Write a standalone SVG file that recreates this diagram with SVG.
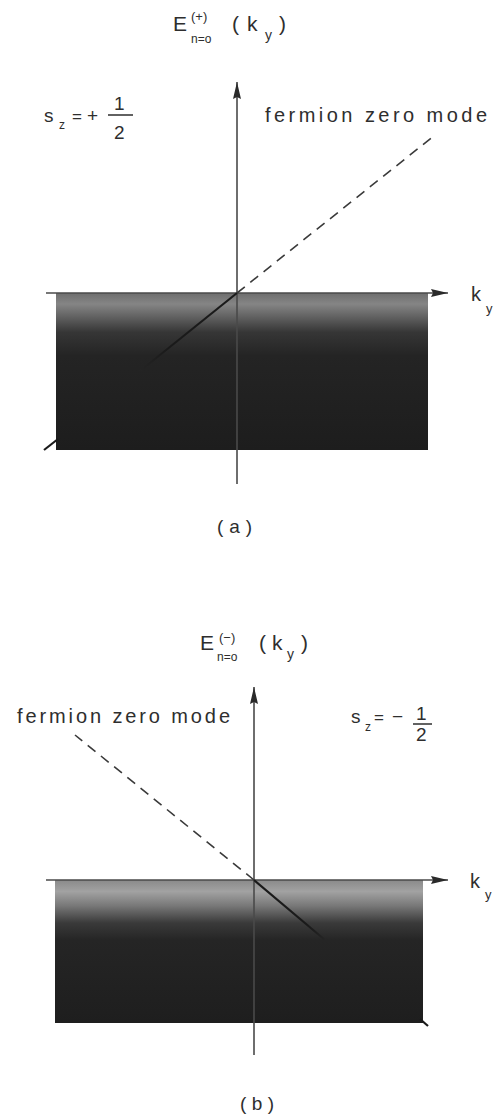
<svg xmlns="http://www.w3.org/2000/svg" width="497" height="1115" viewBox="0 0 497 1115">
<style>
.t{font-family:"Liberation Sans",Arial,sans-serif;fill:#2e2e2e}
.ax{stroke:#4a4a4a;stroke-width:1.6;fill:none}
.sol{stroke:#1a1a1a;stroke-width:2.2;fill:none}
.dash{stroke:#3a3a3a;stroke-width:1.6;fill:none;stroke-dasharray:10 7}
</style>
<defs>
<marker id="ah" markerUnits="userSpaceOnUse" markerWidth="18" markerHeight="10" refX="17" refY="4" orient="auto">
<path d="M0,0 L17,4 L0,8 L2,4 z" fill="#2a2a2a"/>
</marker>
<linearGradient id="ga" x1="0" y1="0" x2="0" y2="1">
<stop offset="0" stop-color="#6e6e6e"/>
<stop offset="0.07" stop-color="#858585"/>
<stop offset="0.15" stop-color="#626262"/>
<stop offset="0.25" stop-color="#363636"/>
<stop offset="0.4" stop-color="#242424"/>
<stop offset="1" stop-color="#1d1d1d"/>
</linearGradient>
<linearGradient id="gb" x1="0" y1="0" x2="0" y2="1">
<stop offset="0" stop-color="#8a8a8a"/>
<stop offset="0.08" stop-color="#a2a2a2"/>
<stop offset="0.18" stop-color="#787878"/>
<stop offset="0.3" stop-color="#3a3a3a"/>
<stop offset="0.42" stop-color="#252525"/>
<stop offset="1" stop-color="#1e1e1e"/>
</linearGradient>
<linearGradient id="fa" gradientUnits="userSpaceOnUse" x1="237" y1="293" x2="140" y2="371">
<stop offset="0" stop-color="#1a1a1a"/>
<stop offset="0.7" stop-color="#1a1a1a"/>
<stop offset="1" stop-color="#242424"/>
</linearGradient>
<linearGradient id="fb" gradientUnits="userSpaceOnUse" x1="254" y1="880" x2="325" y2="940">
<stop offset="0" stop-color="#1a1a1a"/>
<stop offset="0.75" stop-color="#1a1a1a"/>
<stop offset="1" stop-color="#252525"/>
</linearGradient>
</defs>

<g id="panel-a">
<rect x="56" y="293" width="372" height="157" fill="url(#ga)"/>
<g id="connectors-a">
<line class="ax" x1="237" y1="484" x2="237" y2="82" marker-end="url(#ah)"/>
<line class="ax" x1="46" y1="293" x2="448" y2="293" marker-end="url(#ah)"/>
<line x1="237" y1="293" x2="140" y2="371" stroke="url(#fa)" stroke-width="2.2"/>
<line class="sol" x1="58" y1="439" x2="44" y2="450"/>
<line class="dash" x1="237" y1="293" x2="435" y2="135"/>
</g>
<g id="title-a">
<text class="t" x="173" y="31" font-size="21">E</text>
<text class="t" x="191" y="21" font-size="13">(+)</text>
<text class="t" x="191" y="43" font-size="12">n=o</text>
<text class="t" x="232" y="31" font-size="21">(</text>
<text class="t" x="247" y="31" font-size="21">k</text>
<text class="t" x="265" y="40" font-size="14">y</text>
<text class="t" x="279" y="31" font-size="21">)</text>
</g>
<g id="spin-a">
<text class="t" x="44" y="122" font-size="19">s</text>
<text class="t" x="59" y="129" font-size="12">z</text>
<text class="t" x="72" y="122" font-size="17">=</text>
<text class="t" x="87" y="122" font-size="19">+</text>
<text class="t" x="114" y="110" font-size="19">1</text>
<line x1="108" y1="115" x2="133" y2="115" stroke="#2e2e2e" stroke-width="1.5"/>
<text class="t" x="114" y="139" font-size="19">2</text>
</g>
<text id="fzm-a" class="t" x="265" y="122" font-size="20" textLength="222" lengthAdjust="spacing">fermion zero mode</text>
<g id="ky-a">
<text class="t" x="471" y="301" font-size="20">k</text>
<text class="t" x="486" y="313" font-size="13">y</text>
</g>
<text id="label-a" class="t" x="217" y="533" font-size="19" textLength="35" lengthAdjust="spacing">(a)</text>
</g>

<g id="panel-b">
<rect x="55" y="880" width="368" height="143" fill="url(#gb)"/>
<g id="connectors-b">
<line class="ax" x1="254" y1="1055" x2="254" y2="687" marker-end="url(#ah)"/>
<line class="ax" x1="46" y1="880" x2="448" y2="880" marker-end="url(#ah)"/>
<line x1="254" y1="880" x2="325" y2="940" stroke="url(#fb)" stroke-width="2.2"/>
<line class="sol" x1="420" y1="1019" x2="428" y2="1026"/>
<line class="dash" x1="254" y1="880" x2="75" y2="735"/>
</g>
<g id="title-b">
<text class="t" x="200" y="650" font-size="21">E</text>
<text class="t" x="219" y="642" font-size="13">(−)</text>
<text class="t" x="217" y="661" font-size="12">n=o</text>
<text class="t" x="259" y="650" font-size="21">(</text>
<text class="t" x="272" y="650" font-size="21">k</text>
<text class="t" x="287" y="659" font-size="14">y</text>
<text class="t" x="301" y="650" font-size="21">)</text>
</g>
<text id="fzm-b" class="t" x="17" y="723" font-size="20" textLength="213" lengthAdjust="spacing">fermion zero mode</text>
<g id="spin-b">
<text class="t" x="351" y="723" font-size="19">s</text>
<text class="t" x="365" y="731" font-size="12">z</text>
<text class="t" x="374" y="723" font-size="17">=</text>
<text class="t" x="392" y="723" font-size="19">−</text>
<text class="t" x="416" y="720" font-size="19">1</text>
<line x1="413" y1="724" x2="432" y2="724" stroke="#2e2e2e" stroke-width="1.5"/>
<text class="t" x="416" y="741" font-size="19">2</text>
</g>
<g id="ky-b">
<text class="t" x="470" y="888" font-size="20">k</text>
<text class="t" x="485" y="899" font-size="13">y</text>
</g>
<text id="label-b" class="t" x="240" y="1110" font-size="19" textLength="34" lengthAdjust="spacing">(b)</text>
</g>
</svg>
